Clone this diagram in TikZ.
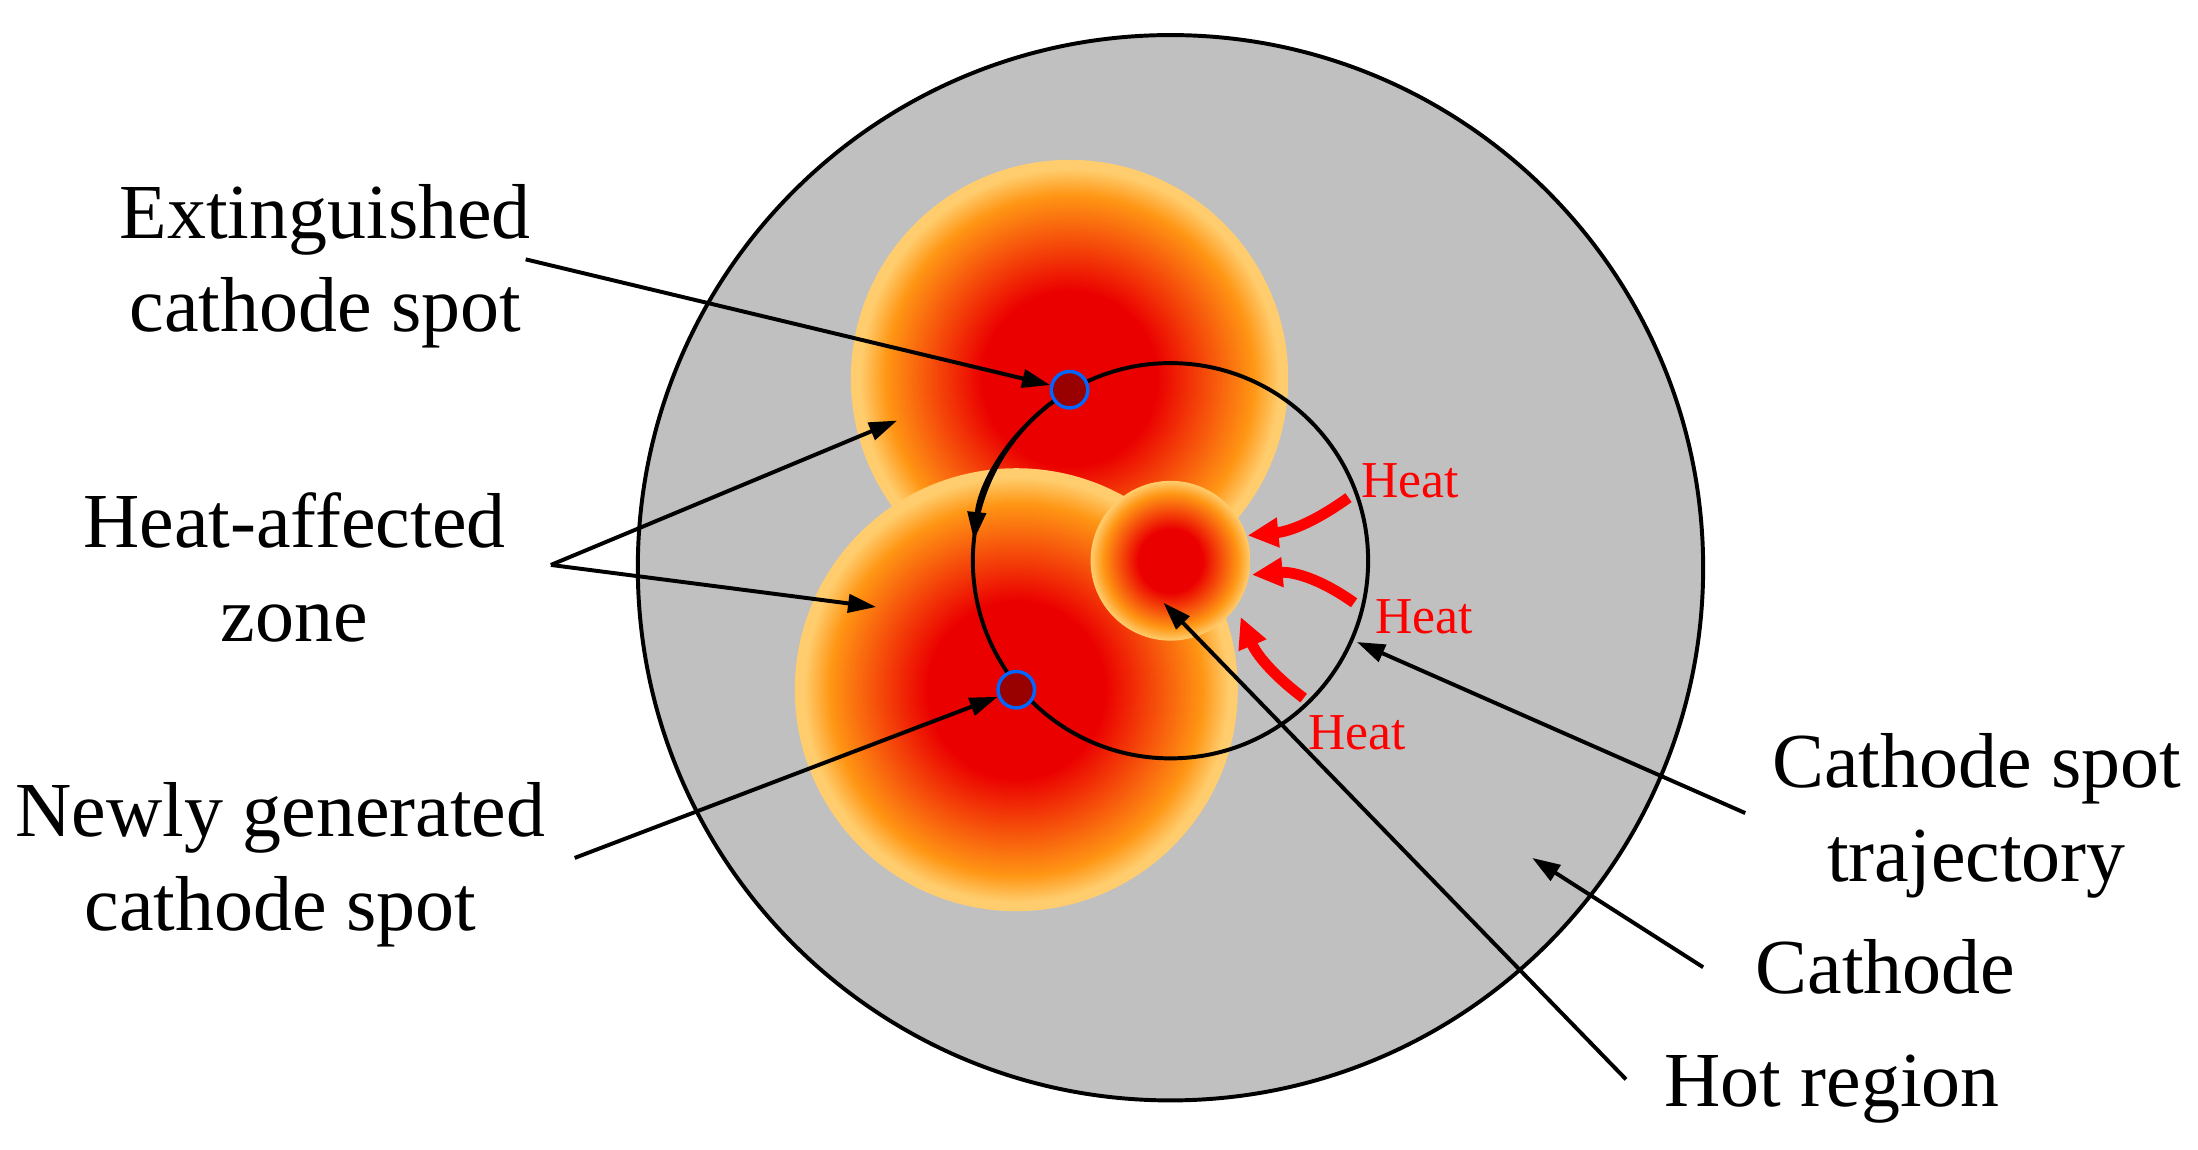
\documentclass[tikz,border=0pt]{standalone}
\usepackage{fontspec}
\setmainfont{Liberation Serif}
\usetikzlibrary{arrows.meta}
\definecolor{cathgray}{RGB}{192,192,192}
\definecolor{hotred}{RGB}{235,0,0}
\definecolor{hotorange}{RGB}{255,150,20}
\definecolor{hotedge}{RGB}{255,205,110}
\pgfdeclareradialshading{haz}{\pgfpoint{0bp}{0bp}}{color(0bp)=(hotred); color(10bp)=(hotred); color(21bp)=(hotorange); color(24bp)=(hotedge); color(25bp)=(hotedge); color(50bp)=(hotedge)}
\pgfdeclareradialshading{hotspot}{\pgfpoint{0bp}{0bp}}{color(0bp)=(hotred); color(10bp)=(hotred); color(21bp)=(hotorange); color(25bp)=(hotedge); color(50bp)=(hotedge)}
\tikzset{
  lbl/.style={align=center,font=\fontsize{15.8}{19}\selectfont},
  heatlbl/.style={text=red,font=\fontsize{10.5}{12}\selectfont},
  ptr/.style={black,line width=0.8pt,-{Triangle[length=0.2cm,width=0.13cm]}},
  heatarrow/.style={red,line width=2.2pt,-{Triangle[length=0.22cm,width=0.2cm]}},
  spot/.style={circle,draw=blue!60!cyan,line width=0.7pt,fill=red!60!black,minimum size=0.26cm,inner sep=0pt}
}
\begin{document}
\begin{tikzpicture}[x=0.01cm,y=-0.01cm]
\useasboundingbox (0,0) rectangle (1568,820);
\fill[white] (0,0) rectangle (1568,820);
\draw[fill=cathgray,line width=0.8pt] (835,405) circle (380);
\node[circle,minimum size=0cm] (cath) at (835,405) {};
\shade[shading=haz] (763,270) circle (156);
\shade[shading=haz] (725,492) circle (158);
\shade[shading=hotspot] (835,400) circle (57);
\node (hot) at (835,400) {};
\draw[line width=0.8pt] (835,400) circle (141);
\coordinate (trajp) at (968,458);
\draw[ptr] (835,400) ++(237:141) arc[start angle=237,end angle=186,radius=141];
\node[spot] (ext) at (763,278) {};
\node[spot] (new) at (725,492) {};
% heat arrows
\coordinate (h1a) at (962,355); \coordinate (h1b) at (890,382);
\coordinate (h2a) at (966,430); \coordinate (h2b) at (893,410);
\coordinate (h3a) at (930,498); \coordinate (h3b) at (885,440);
\draw[heatarrow] (h1a) to[bend left=15] (h1b);
\draw[heatarrow] (h2a) to[bend right=20] (h2b);
\draw[heatarrow] (h3a) to[bend left=15] (h3b);
\node[heatlbl] at (1006,343) {Heat};
\node[heatlbl] at (1016,440) {Heat};
\node[heatlbl] at (968,523) {Heat};
% labels
\node[lbl] (lext) at (232,190) {Extinguished\\cathode spot};
\node[lbl] (lhaz) at (210,405) {Heat-affected\\zone};
\node[lbl] (lnew) at (200,617) {Newly generated\\cathode spot};
\node[lbl] (ltraj) at (1410,582) {Cathode spot\\trajectory};
\node[lbl] (lcath) at (1345,690) {Cathode};
\node[lbl] (lhot) at (1307,777) {Hot region};
\coordinate (hz) at (393,403);
\coordinate (hz1) at (640,300);
\coordinate (hz2) at (625,433);
\draw[ptr] (375,185) -- (ext);
\draw[ptr] (hz) -- (hz1);
\draw[ptr] (hz) -- (hz2);
\draw[ptr] (410,612) -- (new);
\draw[ptr] (1245,580) -- (trajp);
\draw[ptr] (1215,690) -- (1093,612);
\draw[ptr] (1160,770) -- (830,430);
\end{tikzpicture}
\end{document}
